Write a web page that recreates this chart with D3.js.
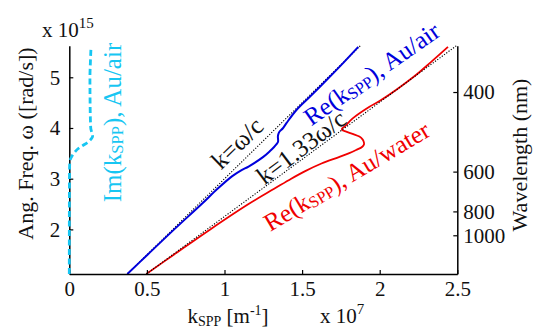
<!DOCTYPE html>
<html>
<head>
<meta charset="utf-8">
<script src="https://cdn.jsdelivr.net/npm/d3@7"></script>
<style>
  body { margin: 0; background: #fff; }
  svg { display: block; }
  svg text { font-family: "Liberation Serif", "Times New Roman", serif !important; }
</style>
</head>
<body>
<svg id="chart" width="533" height="335"></svg>
<script>
// Surface plasmon polariton dispersion on gold.
// Angular frequency in units of 1e15 rad/s, wavenumber in units of 1e7 1/m.

// Re(k_SPP), gold / air interface
const airOmega = [1.12, 1.5, 2.0, 2.5, 2.8, 3.05, 3.17, 3.24, 3.43, 3.55, 3.62, 3.68, 3.73, 3.78, 3.83, 3.88, 3.93, 3.99, 4.1, 4.36, 4.6, 5.0, 5.3, 5.6];
const airRe    = [0.374, 0.504, 0.676, 0.853, 0.955, 1.05, 1.11, 1.155, 1.25, 1.295, 1.318, 1.335, 1.345, 1.345, 1.344, 1.347, 1.355, 1.375, 1.40, 1.465, 1.545, 1.675, 1.77, 1.862];

// Im(k_SPP), gold / air interface
const airImOmega = [1.12, 2.5, 3.0, 3.25, 3.37, 3.45, 3.53, 3.6, 3.66, 3.72, 3.78, 3.83, 3.9, 4.0, 4.5, 5.0, 5.3, 5.6];
const airIm      = [0.0, 0.0005, 0.001, 0.002, 0.006, 0.018, 0.037, 0.06, 0.09, 0.12, 0.14, 0.15, 0.146, 0.138, 0.134, 0.133, 0.136, 0.14];

// Re(k_SPP), gold / water interface
const waterOmega = [1.12, 1.5, 2.0, 2.5, 2.8, 3.0, 3.15, 3.3, 3.43, 3.5, 3.566, 3.63, 3.68, 3.73, 3.78, 3.83, 3.88, 3.927, 3.96, 3.99, 4.026, 4.19, 4.42, 4.55, 5.0, 5.3, 5.6];
const waterRe    = [0.496, 0.673, 0.908, 1.155, 1.32, 1.43, 1.52, 1.625, 1.741, 1.80, 1.848, 1.888, 1.899, 1.897, 1.888, 1.869, 1.83, 1.784, 1.758, 1.758, 1.773, 1.826, 1.934, 2.009, 2.215, 2.33, 2.44];

// light lines: k = ω/c in air, k = 1.33 ω/c in water
const lightOmega = [1.12, 5.62];
const airLightK = [0.3736, 1.8746];
const waterLightK = [0.4969, 2.4932];

// axis ticks
const kTicks = [0, 0.5, 1, 1.5, 2, 2.5];
const omegaTicks = [2, 3, 4, 5];
const wavelengthTicks = [400, 600, 800, 1000]; // nm

const svg = d3.select("#chart");
const W = 533, H = 335;
const FONT = '"Liberation Serif", "Times New Roman", serif';
svg.attr("font-family", FONT);
svg.append("rect").attr("width", W).attr("height", H).attr("fill", "#fff");

const x = d3.scaleLinear().domain([0, 2.5]).range([69.3, 457.3]);
const y = d3.scaleLinear().domain([1.12, 5.62]).range([274, 45.85]);

// wavelength (nm) -> angular frequency (1e15 rad/s)
const toOmega = lam => 2 * Math.PI * 2.998e8 / (lam * 1e-9) / 1e15;

const BLUE = "#0000dc", RED = "#f00000", CYAN = "#17c6f2";

const line = d3.line().x(d => x(d[0])).y(d => y(d[1]));
const zip = (ks, ws) => ks.map((k, i) => [k, ws[i]]);

const plot = svg.append("g");

// k = ω/c
plot.append("path")
  .datum(zip(airLightK, lightOmega))
  .attr("d", line).attr("fill", "none")
  .attr("stroke", "#000").attr("stroke-width", 1.1).attr("stroke-dasharray", "1.2,1.6");

// gold / air
plot.append("path")
  .datum(zip(airRe, airOmega))
  .attr("d", line.curve(d3.curveCatmullRom.alpha(0.5))).attr("fill", "none")
  .attr("stroke", BLUE).attr("stroke-width", 2);

// gold / water
plot.append("path")
  .datum(zip(waterRe, waterOmega))
  .attr("d", line.curve(d3.curveCatmullRom.alpha(0.5))).attr("fill", "none")
  .attr("stroke", RED).attr("stroke-width", 1.8);

// k = 1.33 ω/c
plot.append("path")
  .datum(zip(waterLightK, lightOmega))
  .attr("d", line.curve(d3.curveLinear)).attr("fill", "none")
  .attr("stroke", "#000").attr("stroke-width", 1.1).attr("stroke-dasharray", "1.2,1.6");

// axes
const tickFont = 21;
const styleAxis = g => {
  g.attr("font-family", FONT);
  g.select(".domain").attr("stroke-width", 1.5);
  g.selectAll(".tick line").attr("stroke-width", 1.2);
  g.selectAll("text").attr("font-size", tickFont).attr("fill", "#111")
    .attr("font-family", FONT);
};

svg.append("g").attr("transform", `translate(0,${y(1.12)})`)
  .call(d3.axisBottom(x).tickValues(kTicks).tickFormat(d => String(d))
    .tickSize(-4).tickSizeOuter(0).tickPadding(7))
  .call(styleAxis);

svg.append("g").attr("transform", `translate(${x(0)},0)`)
  .call(d3.axisLeft(y).tickValues(omegaTicks).tickFormat(d => String(d))
    .tickSize(-4).tickSizeOuter(0).tickPadding(9))
  .call(styleAxis);

svg.append("g").attr("transform", `translate(${x(2.5)},0)`)
  .call(d3.axisRight(y).tickValues(wavelengthTicks.map(toOmega))
    .tickFormat((d, i) => String(wavelengthTicks[i]))
    .tickSize(-4).tickSizeOuter(0).tickPadding(6))
  .call(styleAxis);

// Im(k_SPP) dashed curve, drawn over the axis line
svg.append("path")
  .datum(zip(airIm, airImOmega))
  .attr("d", d3.line().x(d => x(d[0])).y(d => y(d[1])).curve(d3.curveMonotoneY))
  .attr("fill", "none")
  .attr("stroke", CYAN).attr("stroke-width", 2.8).attr("stroke-dasharray", "6,3.5");

// axis titles
const t = svg.append("g").attr("font-size", 21).attr("fill", "#111").attr("font-family", FONT);

const kLab = t.append("text").attr("x", 187.5).attr("y", 322.5);
kLab.append("tspan").text("k");
kLab.append("tspan").attr("font-size", 14).attr("dy", 3).text("SPP");
kLab.append("tspan").attr("dy", -3).text(" [m");
kLab.append("tspan").attr("font-size", 14).attr("dy", -8).text("-1");
kLab.append("tspan").attr("dy", 8).text("]");

const xMul = t.append("text").attr("x", 320).attr("y", 323);
xMul.append("tspan").text("x 10");
xMul.append("tspan").attr("font-size", 15).attr("dy", -9).text("7");

const yMul = t.append("text").attr("x", 42).attr("y", 36.5);
yMul.append("tspan").text("x 10");
yMul.append("tspan").attr("font-size", 15).attr("dy", -9).text("15");

t.append("text")
  .attr("transform", "translate(33,143.5) rotate(-90)")
  .attr("text-anchor", "middle")
  .attr("font-size", 22)
  .text("Ang. Freq. ω ([rad/s])");

t.append("text")
  .attr("transform", "translate(527,155) rotate(-90)")
  .attr("text-anchor", "middle")
  .attr("font-size", 22)
  .text("Wavelength (nm)");

// curve annotations
const noteFont = 25;
function spp(sel, before, after) {
  sel.append("tspan").text(before);
  sel.append("tspan").attr("font-size", 16.5).attr("dy", 2).text("SPP");
  sel.append("tspan").attr("dy", -2).text(after);
}

const notes = svg.append("g").attr("font-size", noteFont).attr("font-family", FONT);

notes.append("text")
  .attr("transform", "translate(237,143) rotate(-44)")
  .attr("text-anchor", "middle").attr("dy", "0.35em").attr("fill", "#111")
  .text("k=ω/c");

notes.append("text")
  .attr("transform", "translate(301,147) rotate(-37)")
  .attr("text-anchor", "middle").attr("dy", "0.35em").attr("fill", "#111")
  .text("k=1.33ω/c");

spp(notes.append("text")
  .attr("transform", "translate(371.5,73.5) rotate(-35)")
  .attr("text-anchor", "middle").attr("dy", "0.35em")
  .attr("fill", BLUE), "Re(k", "), Au/air");

spp(notes.append("text")
  .attr("transform", "translate(346.5,176) rotate(-31)")
  .attr("text-anchor", "middle").attr("dy", "0.35em")
  .attr("fill", RED), "Re(k", "), Au/water");

spp(notes.append("text")
  .attr("transform", "translate(112,122.5) rotate(-90)")
  .attr("text-anchor", "middle").attr("dy", "0.35em")
  .attr("fill", CYAN), "Im(k", "), Au/air");
</script>
</body>
</html>
